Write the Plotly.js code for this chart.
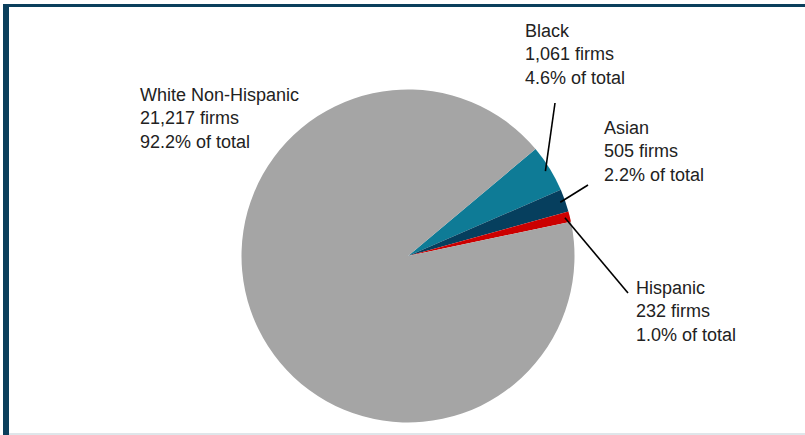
<!DOCTYPE html>
<html>
<head>
<meta charset="utf-8">
<script src="https://cdn.plot.ly/plotly-3.0.1.min.js"></script>
<style>
html,body{margin:0;padding:0;background:#fff;}
#chart{width:805px;height:435px;}
</style>
</head>
<body>
<div id="chart"></div>
<script>
// Data
const categories = ['Black', 'Asian', 'Hispanic', 'White Non-Hispanic'];
const firms = [1061, 505, 232, 21217];
const colors = ['#0e7b96', '#063f5e', '#cc0000', '#a5a5a5'];

// Layout constants (pixels)
const W = 805, H = 435;
const CX = 408, CY = 256, R = 166.5;
const ROT = 50;
// label boxes: left x, cap-top y of first line; leader tail point
const labelPos = [
  {x: 525, y: 24, tail: [555, 103]},
  {x: 604, y: 121, tail: [588, 185]},
  {x: 636, y: 281, tail: [628, 293]},
  {x: 140, y: 88, tail: null}
];

const total = firms.reduce((a, b) => a + b, 0);
const px = v => v / W;
const py = v => 1 - v / H;
const fmt = n => n.toLocaleString('en-US');

const annotations = [];
const shapes = [];
let cum = 0;
firms.forEach((v, i) => {
  const mid = ROT + 360 * (cum + v / 2) / total;
  cum += v;
  const pct = (100 * v / total).toFixed(1);
  const lp = labelPos[i];
  annotations.push({
    xref: 'paper', yref: 'paper',
    x: px(lp.x - 2), y: py(lp.y - 5.5),
    xanchor: 'left', yanchor: 'top', align: 'left',
    showarrow: false,
    text: categories[i] + '<br>' + fmt(v) + ' firms<br>' + pct + '% of total',
    font: {family: '"Liberation Sans", Arial, sans-serif', size: 18, color: '#222'}
  });
  if (lp.tail) {
    const a = mid * Math.PI / 180;
    const tx = CX + 0.97 * R * Math.sin(a);
    const ty = CY - 0.97 * R * Math.cos(a);
    shapes.push({type: 'line', xref: 'paper', yref: 'paper',
      x0: px(tx), y0: py(ty), x1: px(lp.tail[0]), y1: py(lp.tail[1]),
      line: {color: '#000', width: 1.6}});
  }
});

// Frame decoration
shapes.push({type: 'rect', xref: 'paper', yref: 'paper', x0: px(3), x1: px(9), y0: 0, y1: py(4), fillcolor: '#0b3f5c', line: {width: 0}, layer: 'below'});
shapes.push({type: 'rect', xref: 'paper', yref: 'paper', x0: px(3), x1: 1, y0: py(7), y1: py(4), fillcolor: '#0b3f5c', line: {width: 0}, layer: 'below'});
shapes.push({type: 'rect', xref: 'paper', yref: 'paper', x0: px(9), x1: 1, y0: 0, y1: py(433), fillcolor: '#dfe6ea', line: {width: 0}, layer: 'below'});

const trace = {
  type: 'pie',
  labels: categories,
  values: firms,
  sort: false,
  direction: 'clockwise',
  rotation: ROT,
  marker: {colors: colors, line: {width: 0}},
  textinfo: 'none',
  hoverinfo: 'label+value+percent',
  showlegend: false,
  domain: {x: [px(CX - R), px(CX + R)], y: [py(CY + R), py(CY - R)]}
};

const layout = {
  width: W, height: H,
  margin: {l: 0, r: 0, t: 0, b: 0},
  paper_bgcolor: '#fff',
  plot_bgcolor: '#fff',
  showlegend: false,
  annotations: annotations,
  shapes: shapes
};

Plotly.newPlot('chart', [trace], layout, {displayModeBar: false, staticPlot: true});
</script>
</body>
</html>
